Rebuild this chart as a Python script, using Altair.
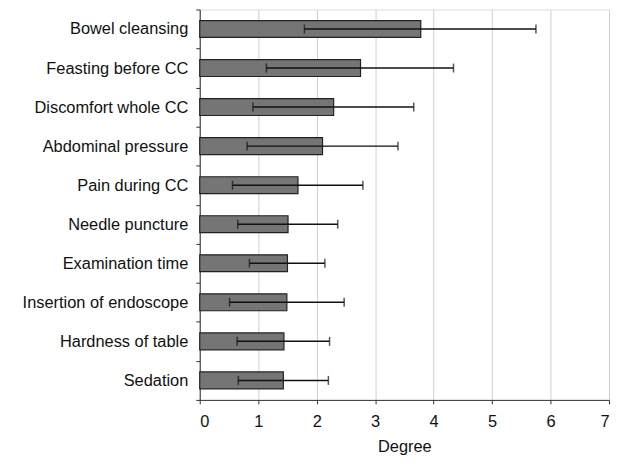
import altair as alt
import pandas as pd

categories = ["Bowel cleansing", "Feasting before CC", "Discomfort whole CC",
              "Abdominal pressure", "Pain during CC", "Needle puncture",
              "Examination time", "Insertion of endoscope", "Hardness of table",
              "Sedation"]
means = [3.78, 2.75, 2.29, 2.10, 1.68, 1.51, 1.50, 1.49, 1.44, 1.43]
err_low = [1.79, 1.14, 0.91, 0.81, 0.56, 0.65, 0.85, 0.51, 0.64, 0.66]
err_high = [5.75, 4.34, 3.66, 3.39, 2.79, 2.36, 2.14, 2.47, 2.22, 2.20]
x_ticks = [0, 1, 2, 3, 4, 5, 6, 7]

df = pd.DataFrame({"cat": categories, "mean": means, "lo": err_low, "hi": err_high})

FONT = "Liberation Sans"
FS = 16.5

y_enc = alt.Y("cat:N", sort=categories,
              scale=alt.Scale(paddingInner=0, paddingOuter=0),
              axis=alt.Axis(title=None, tickBand="extent", labelFontSize=FS,
                            labelColor="#111", labelFont=FONT, tickSize=4,
                            labelPadding=8, domainColor="#333", tickColor="#333",
                            labelLimit=300))
x_enc = alt.X("mean:Q", scale=alt.Scale(domain=[0, 7], nice=False),
              axis=alt.Axis(values=x_ticks, format="d", title="Degree", titleFontSize=FS,
                            titleFont=FONT, titleFontWeight="normal", titleColor="#111",
                            labelFontSize=FS, labelFont=FONT, labelColor="#111",
                            labelPadding=10, titlePadding=8, tickSize=4,
                            grid=True, gridColor="#cfcfcf", domainColor="#333",
                            tickColor="#333"))

bars = alt.Chart(df).mark_bar(size=17, color="#757575", stroke="#222", strokeWidth=1.2).encode(
    x=x_enc, y=y_enc)
rule = alt.Chart(df).mark_rule(color="#111", strokeWidth=1.5).encode(
    x="lo:Q", x2="hi:Q", y=alt.Y("cat:N", sort=categories))
tick_lo = alt.Chart(df).mark_tick(color="#111", size=9, thickness=1.5).encode(
    x="lo:Q", y=alt.Y("cat:N", sort=categories))
tick_hi = alt.Chart(df).mark_tick(color="#111", size=9, thickness=1.5).encode(
    x="hi:Q", y=alt.Y("cat:N", sort=categories))

chart = alt.layer(bars, rule, tick_lo, tick_hi).properties(
    width=412, height=393,
    autosize=alt.AutoSizeParams(type="none"),
    padding={"left": 193, "top": 0, "right": 6, "bottom": 58},
).configure_view(stroke="#444", strokeWidth=1).configure(background="white")

chart.save("out.html", embed_options={"renderer": "svg", "actions": False})
